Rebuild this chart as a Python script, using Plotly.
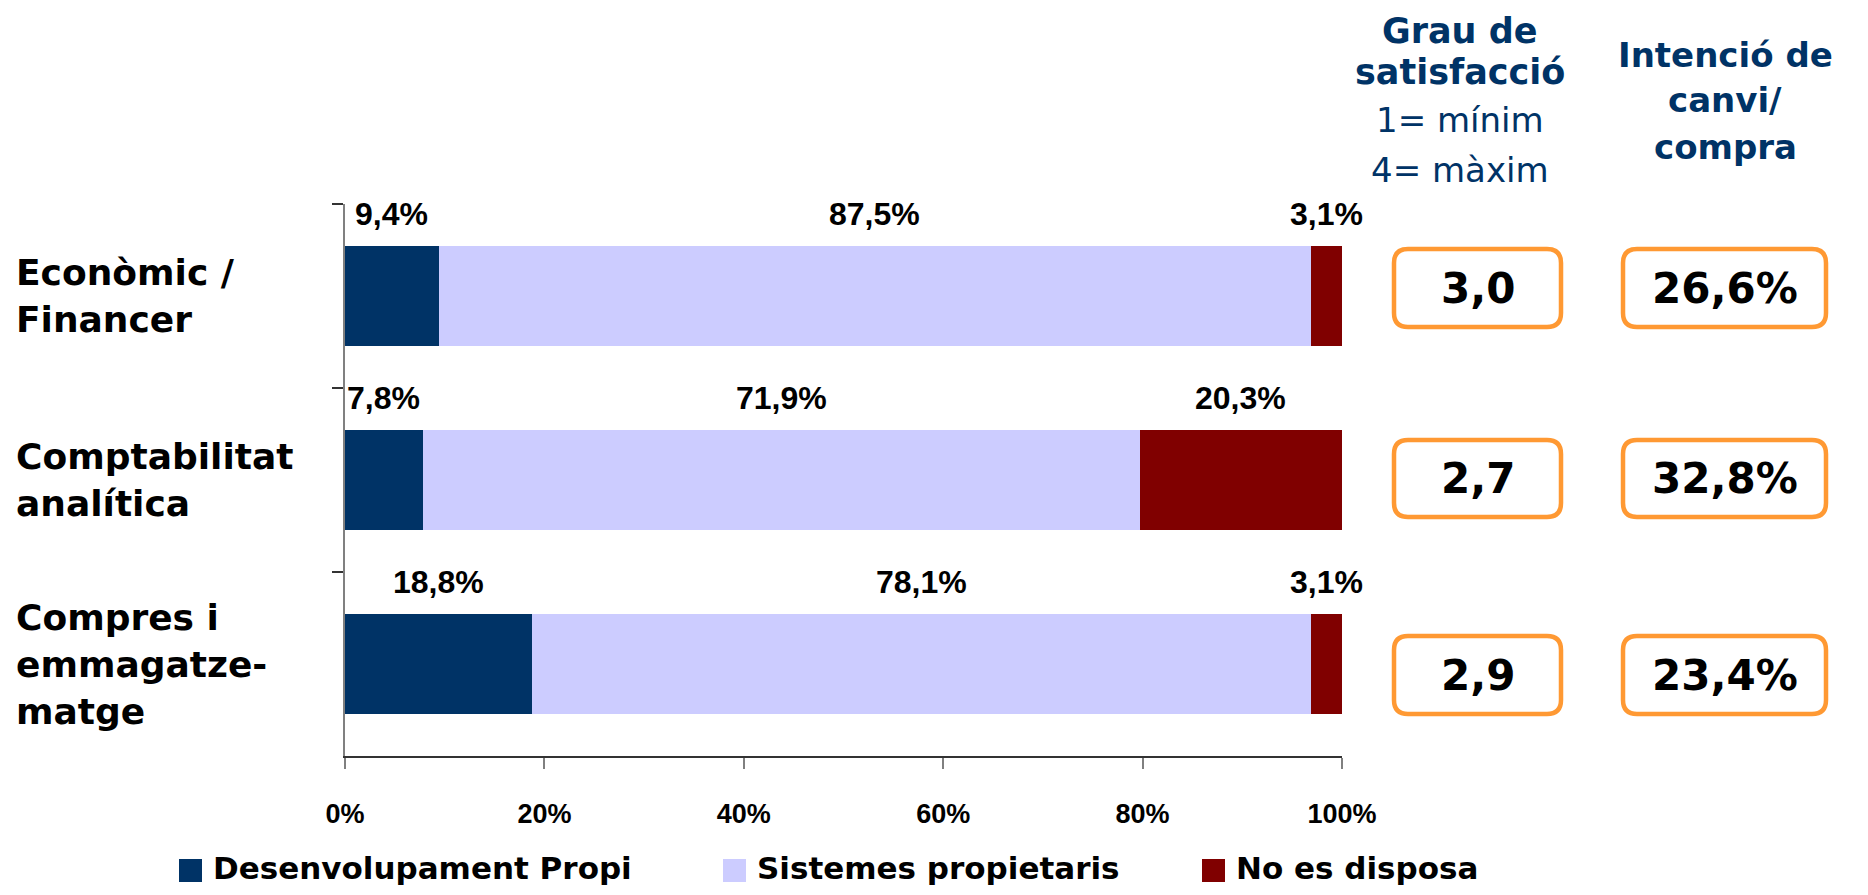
import plotly.graph_objects as go

# ---------------- data ----------------
categories = ["Econòmic /<br>Financer", "Comptabilitat<br>analítica", "Compres i<br>emmagatze-<br>matge"]
series_names = ["Desenvolupament Propi", "Sistemes propietaris", "No es disposa"]
desenvolupament_propi = [9.4, 7.8, 18.8]
sistemes_propietaris = [87.5, 71.9, 78.1]
no_es_disposa = [3.1, 20.3, 3.1]
grau_satisfaccio = [3.0, 2.7, 2.9]
intencio_canvi = [26.6, 32.8, 23.4]
x_ticks = [0, 20, 40, 60, 80, 100]
header_satisf = ["Grau de", "satisfacció"]
header_scale = ["1= mínim", "4= màxim"]
header_intencio = ["Intenció de", "canvi/", "compra"]

# ---------------- style ----------------
colors = ["#003366", "#CCCCFF", "#800000"]
NAVY = "#003366"
ORANGE = "#FF9933"
OFF = 8                      # page body margin
W_FIG, H_FIG = 1868 - 2 * OFF, 895 - 2 * OFF
L, R, T, B = 345, 1342, 204, 756   # plot area in page pixels
PW, PH = R - L, B - T
BOLD = "DejaVu Sans"
ARIAL = "Liberation Sans, Arial, sans-serif"


def px(x):
    return (x - L) / PW


def py(y):
    return (B - y) / PH


def fmt(v, dec=1, suffix=""):
    return f"{v:.{dec}f}".replace(".", ",") + suffix


def rounded_rect(x0, y0, x1, y1, r):
    def P(x, y):
        return f"{px(x):.5f},{py(y):.5f}"
    return (f"M {P(x0 + r, y0)} L {P(x1 - r, y0)} Q {P(x1, y0)} {P(x1, y0 + r)} "
            f"L {P(x1, y1 - r)} Q {P(x1, y1)} {P(x1 - r, y1)} "
            f"L {P(x0 + r, y1)} Q {P(x0, y1)} {P(x0, y1 - r)} "
            f"L {P(x0, y0 + r)} Q {P(x0, y0)} {P(x0 + r, y0)} Z")


series_vals = [desenvolupament_propi, sistemes_propietaris, no_es_disposa]

fig = go.Figure()
for name, vals, col in zip(series_names, series_vals, colors):
    fig.add_trace(go.Bar(
        y=categories, x=vals, name=name, orientation="h",
        marker=dict(color=col, line=dict(width=0)),
        width=0.54, showlegend=False, hoverinfo="x+name",
    ))

annotations = []
shapes = []

# value labels above each segment
for ci, cat in enumerate(categories):
    cum = 0
    for vals in series_vals:
        v = vals[ci]
        annotations.append(dict(
            x=cum + v / 2, y=cat, xref="x", yref="y", text=fmt(v, 1, "%"),
            showarrow=False, yshift=82, xanchor="center", yanchor="middle",
            font=dict(family=ARIAL, size=32, color="black", weight="bold"),
        ))
        cum += v

# category labels (left aligned)
for ci, cat in enumerate(categories):
    annotations.append(dict(
        x=px(14), y=cat, xref="paper", yref="y", text=cat, showarrow=False,
        xanchor="left", yanchor="middle", align="left",
        font=dict(family=BOLD, size=36, color="black", weight="bold"),
    ))

# boxes with satisfaction and intention values
box_rows = [(249, 327), (440, 517), (636, 714)]
boxA = (1394, 1561)
boxB = (1623, 1826)
for ci in range(len(categories)):
    y0, y1 = box_rows[ci]
    for (x0, x1), txt in ((boxA, fmt(grau_satisfaccio[ci], 1)),
                          (boxB, fmt(intencio_canvi[ci], 1, "%"))):
        shapes.append(dict(type="path", xref="paper", yref="paper",
                           path=rounded_rect(x0, y0, x1, y1, 14),
                           line=dict(color=ORANGE, width=4.5),
                           fillcolor="rgba(255,255,255,0)"))
        annotations.append(dict(
            x=px((x0 + x1) / 2), y=py((y0 + y1) / 2), xref="paper", yref="paper",
            text=txt, showarrow=False, xanchor="center", yanchor="middle",
            font=dict(family=BOLD, size=42, color="black", weight="bold"),
        ))

# headers
for txt, yc in zip(header_satisf, [31, 72]):
    annotations.append(dict(x=px(1460), y=py(yc), xref="paper", yref="paper", text=txt,
                            showarrow=False, xanchor="center", yanchor="middle",
                            font=dict(family=BOLD, size=35, color=NAVY, weight="bold")))
for txt, yc in zip(header_scale, [120, 170]):
    annotations.append(dict(x=px(1460), y=py(yc), xref="paper", yref="paper", text=txt,
                            showarrow=False, xanchor="center", yanchor="middle",
                            font=dict(family=BOLD, size=34, color=NAVY)))
for txt, yc in zip(header_intencio, [55, 100, 147]):
    annotations.append(dict(x=px(1725), y=py(yc), xref="paper", yref="paper", text=txt,
                            showarrow=False, xanchor="center", yanchor="middle",
                            font=dict(family=BOLD, size=34, color=NAVY, weight="bold")))

# custom legend
leg_sq_x = [179, 723, 1202]
for name, col, sx in zip(series_names, colors, leg_sq_x):
    shapes.append(dict(type="rect", xref="paper", yref="paper",
                       x0=px(sx), x1=px(sx + 23), y0=py(882), y1=py(859),
                       fillcolor=col, line=dict(width=0)))
    annotations.append(dict(x=px(sx + 32), y=py(868), xref="paper", yref="paper",
                            text=name, showarrow=False, xanchor="left", yanchor="middle",
                            font=dict(family=BOLD, size=31, color="black", weight="bold")))

fig.update_layout(
    width=W_FIG, height=H_FIG,
    margin=dict(l=L - OFF, r=W_FIG - (R - OFF), t=T - OFF, b=H_FIG - (B - OFF), autoexpand=False),
    barmode="stack", bargap=0.46,
    paper_bgcolor="white", plot_bgcolor="rgba(0,0,0,0)",
    annotations=annotations, shapes=shapes,
    showlegend=False,
    xaxis=dict(range=[0, 100], tickvals=x_ticks, ticktext=[f"{t}%" for t in x_ticks],
               ticks="outside", ticklen=11, tickwidth=2, tickcolor="#808080",
               showline=True, linecolor="#333333", linewidth=2, showgrid=False,
               zeroline=False, ticklabelstandoff=22,
               tickfont=dict(family=ARIAL, size=27, color="black", weight="bold")),
    yaxis=dict(type="category", categoryorder="array", categoryarray=categories,
               range=[2.5, -0.5], tickson="boundaries", ticks="outside", ticklen=11,
               tickwidth=2, tickcolor="#333333", showline=True, linecolor="#808080",
               linewidth=2, showgrid=False, showticklabels=False, zeroline=False),
)

fig.write_html("out.html")
